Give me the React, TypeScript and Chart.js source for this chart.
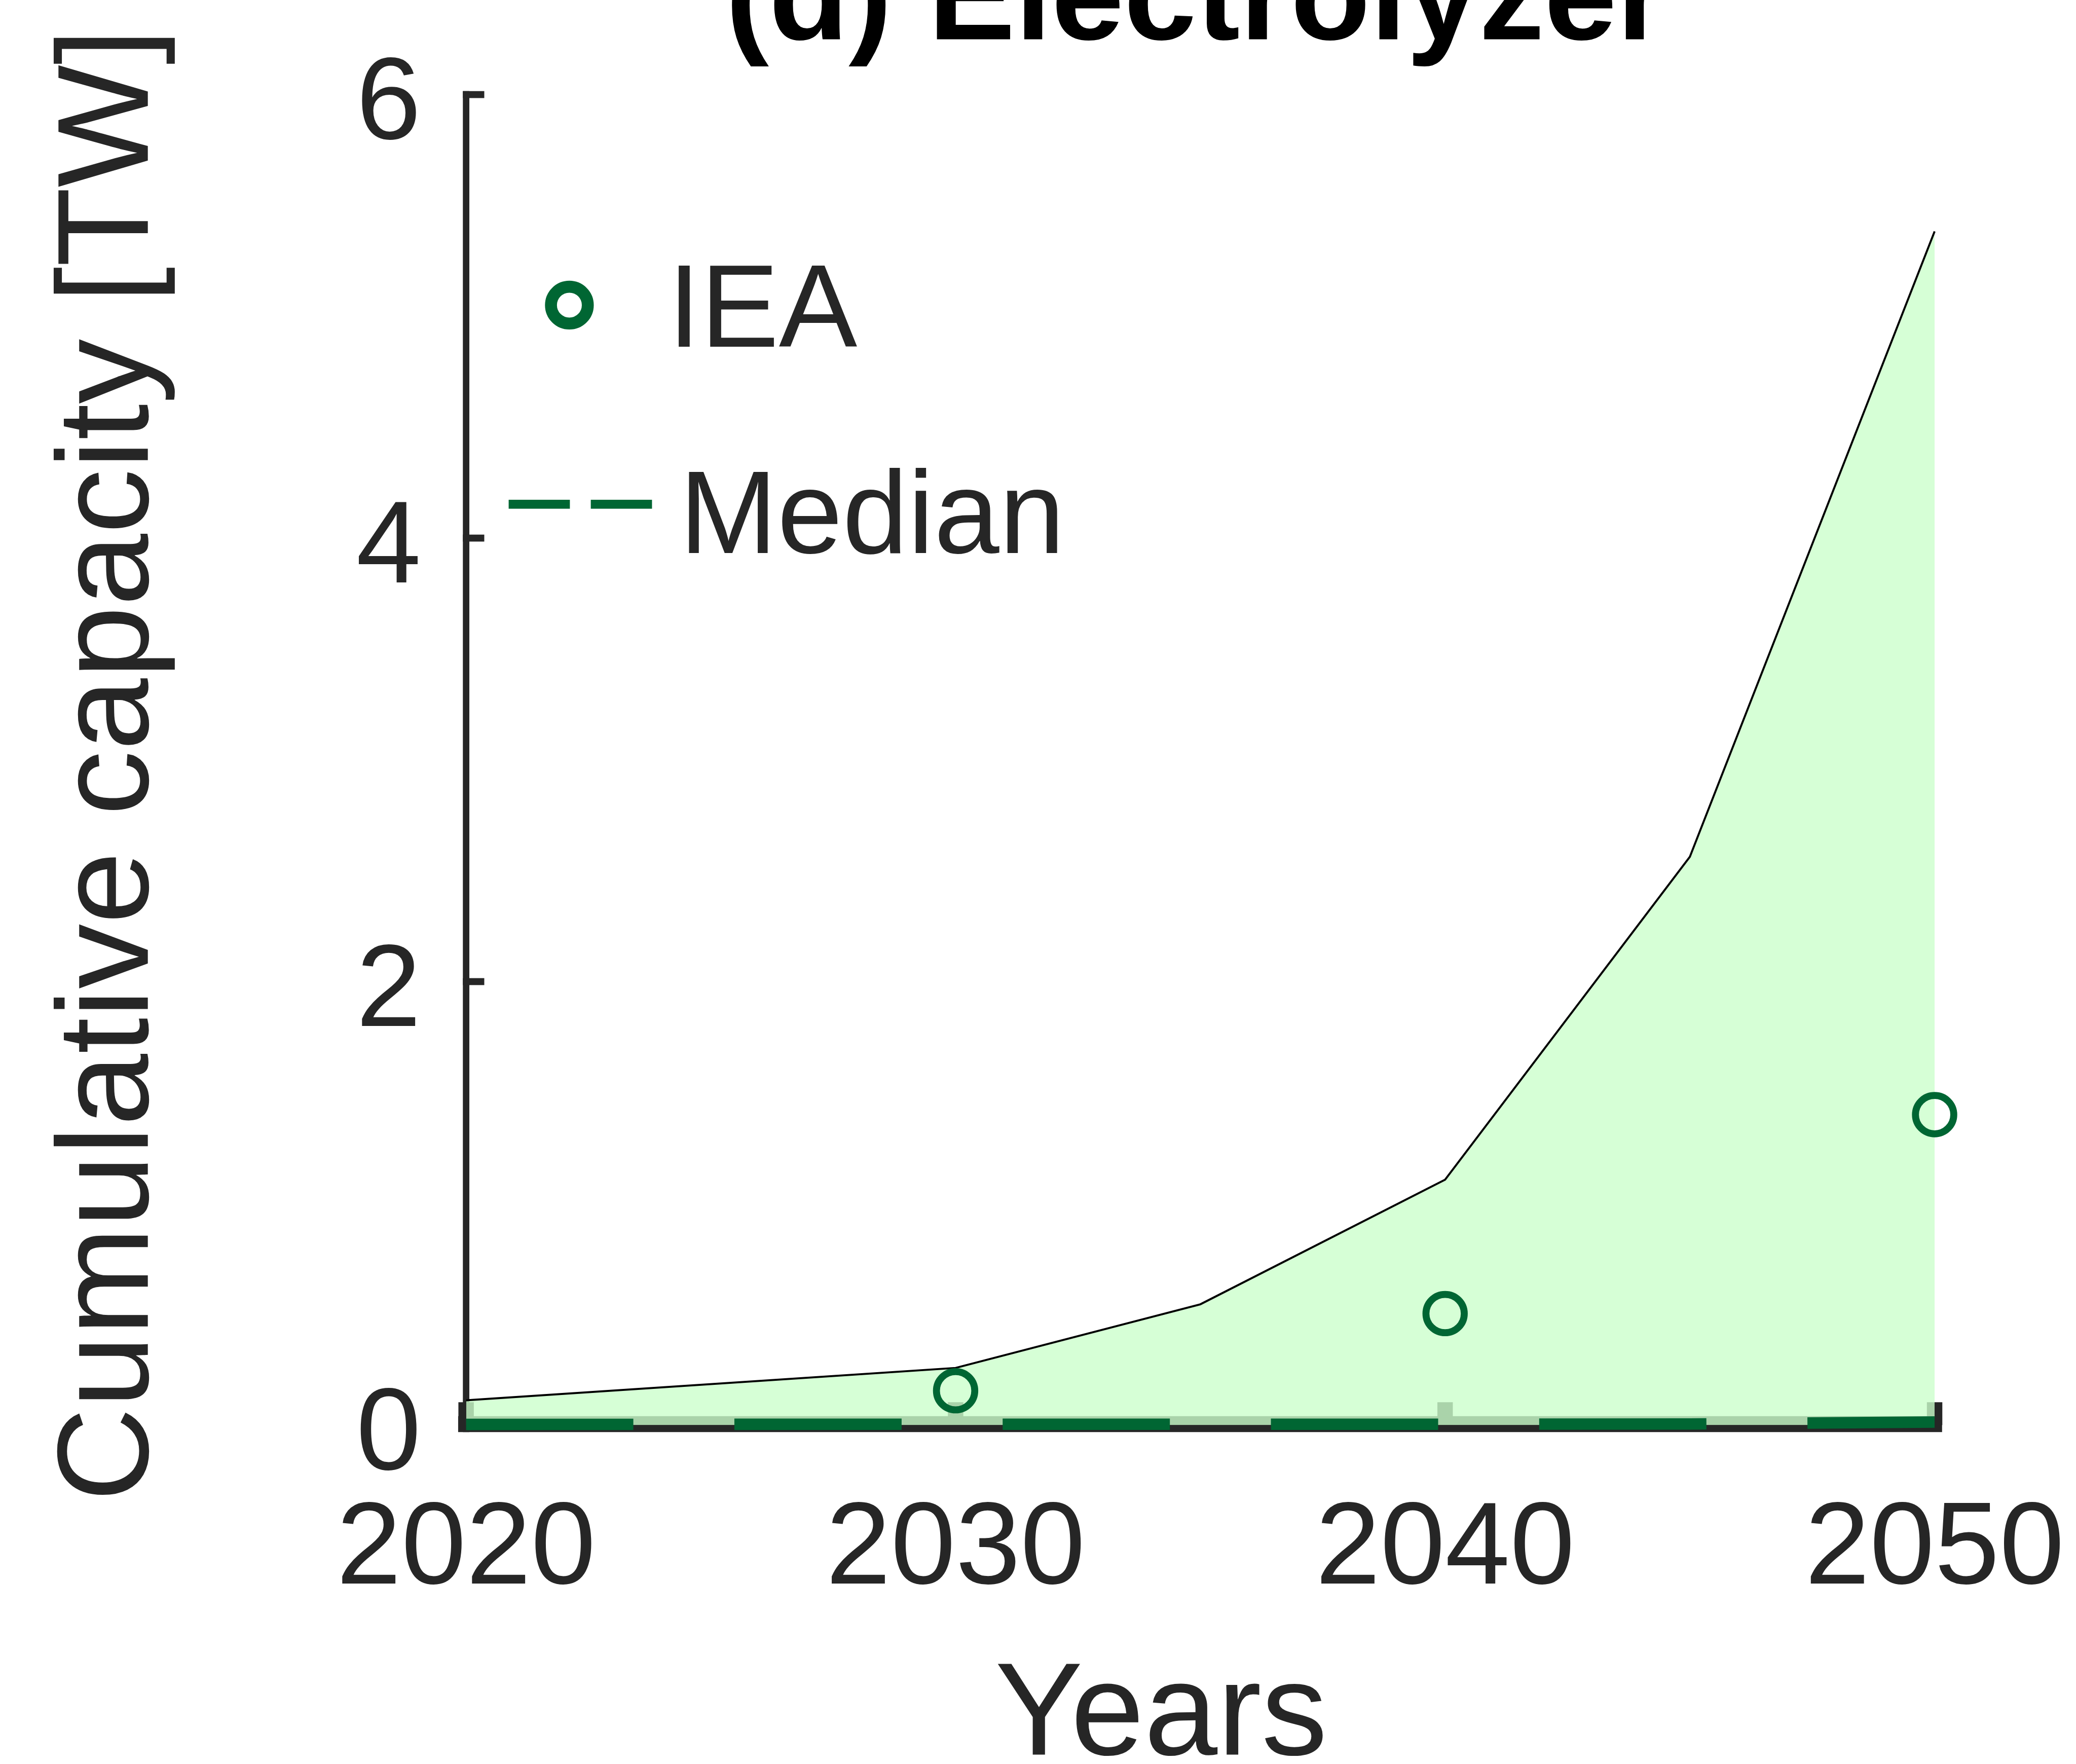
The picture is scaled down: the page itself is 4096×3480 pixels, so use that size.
import React, { useEffect, useRef } from "react";
import { Chart, registerables } from "chart.js";

Chart.register(...registerables);

// ---- data ----
const bandYears = [2020, 2030, 2035, 2040, 2045, 2050];
const upperBound = [0.112, 0.258, 0.545, 1.107, 2.563, 5.383];
const medianYears = [2020, 2030, 2035, 2040, 2045, 2050];
const medianValues = [0.003, 0.004, 0.004, 0.004, 0.005, 0.014];
const ieaYears = [2030, 2040, 2050];
const ieaValues = [0.155, 0.503, 1.4];
const xTickValues = [2020, 2030, 2040, 2050];
const yTickValues = [0, 2, 4, 6];
const titleText = "(d) Electrolyzer";
const xTitleText = "Years";
const yTitleText = "Cumulative capacity [TW]";
const legendLabels = ["IEA", "Median"];

// ---- styling ----
const S = 0.982;
const W = 4096;
const H = 3480;
const FONT = "'Liberation Sans', Arial, Helvetica, sans-serif";
const AXIS = "#262626";
const GREEN = "#006633";
const FILL = "rgba(204,255,204,0.8)";

const matlabAxes = {
  id: "matlabAxes",
  beforeDatasetsDraw(chart: any) {
    const { ctx } = chart;
    const xs = chart.scales.x;
    const ys = chart.scales.y;
    const x0 = xs.getPixelForValue(xTickValues[0]);
    const x1 = xs.getPixelForValue(xTickValues[xTickValues.length - 1]);
    const y0 = ys.getPixelForValue(yTickValues[0]);
    const yTop = ys.getPixelForValue(yTickValues[yTickValues.length - 1]);
    ctx.save();
    ctx.fillStyle = AXIS;
    const yw = 13 * S;
    // y axis line
    ctx.fillRect(x0 - yw / 2, yTop - 7 * S, yw, y0 + 14 * S - (yTop - 7 * S));
    // y ticks (inward)
    for (const v of yTickValues) {
      const py = ys.getPixelForValue(v);
      ctx.fillRect(x0 - yw / 2, py - 7 * S, 43 * S, 14 * S);
    }
    // x axis line
    ctx.fillRect(x0 - 16 * S, y0 - 18 * S, x1 + 15 * S - (x0 - 16 * S), 32 * S);
    // x ticks (inward)
    for (const v of xTickValues) {
      const px = xs.getPixelForValue(v);
      ctx.fillRect(px - 15.5 * S, y0 - 46 * S, 31 * S, 46 * S);
    }
    ctx.restore();
  },
  afterDraw(chart: any) {
    const { ctx } = chart;
    ctx.save();
    // title
    ctx.fillStyle = "#000";
    ctx.font = `bold ${262 * S}px ${FONT}`;
    ctx.textAlign = "center";
    ctx.textBaseline = "alphabetic";
    ctx.fillText(titleText, 2404 * S, 79 * S);

    // x title
    ctx.fillStyle = AXIS;
    ctx.font = `${265 * S}px ${FONT}`;
    ctx.fillText(xTitleText, 2333 * S, 3525 * S);

    // y title
    ctx.save();
    ctx.translate(297 * S, 1537 * S);
    ctx.rotate(-Math.PI / 2);
    ctx.font = `${261 * S}px ${FONT}`;
    ctx.fillText(yTitleText, 0, 0);
    ctx.restore();

    // legend
    ctx.strokeStyle = GREEN;
    ctx.lineWidth = 24 * S;
    ctx.beginPath();
    ctx.arc(1144 * S, 613 * S, 37 * S, 0, Math.PI * 2);
    ctx.stroke();
    ctx.fillStyle = GREEN;
    ctx.fillRect(1022 * S, 1004 * S, 123 * S, 18 * S);
    ctx.fillRect(1187 * S, 1004 * S, 123 * S, 18 * S);

    ctx.fillStyle = AXIS;
    ctx.textAlign = "left";
    ctx.font = `${236 * S}px ${FONT}`;
    ctx.fillText(legendLabels[0], 1342 * S, 697 * S);
    ctx.fillText(legendLabels[1], 1365 * S, 1111 * S);
    ctx.restore();
  },
};

export default function App() {
  const ref = useRef<HTMLCanvasElement | null>(null);

  useEffect(() => {
    document.body.style.margin = "0";
    document.body.style.overflow = "hidden";
    const canvas = ref.current;
    if (!canvas) return;

    const chartLeft = 936.5 * S;
    const chartRight = 3887 * S;
    const chartTop = 190 * S;
    const chartBottom = 2863 * S;

    const chart = new Chart(canvas, {
      type: "line",
      data: {
        datasets: [
          {
            label: legendLabels[0],
            data: ieaYears.map((yr, i) => ({ x: yr, y: ieaValues[i] })),
            showLine: false,
            pointRadius: 38.5 * S,
            pointBorderWidth: 14 * S,
            pointBorderColor: GREEN,
            pointBackgroundColor: "rgba(0,0,0,0)",
            borderColor: GREEN,
            clip: false,
            order: 0,
          },
          {
            label: legendLabels[1],
            data: medianYears.map((yr, i) => ({ x: yr, y: medianValues[i] })),
            borderColor: GREEN,
            borderWidth: 23 * S,
            borderDash: [336 * S, 203 * S],
            borderCapStyle: "butt",
            pointRadius: 0,
            fill: false,
            tension: 0,
            clip: false,
            order: 1,
          },
          {
            label: "Range",
            data: bandYears.map((yr, i) => ({ x: yr, y: upperBound[i] })),
            borderColor: "#000",
            borderWidth: 4 * S,
            backgroundColor: FILL,
            fill: "origin",
            pointRadius: 0,
            tension: 0,
            clip: false,
            order: 2,
          },
        ],
      },
      options: {
        responsive: false,
        animation: false,
        events: [],
        layout: {
          padding: { top: chartTop, right: W - chartRight, bottom: 0, left: 0 },
        },
        plugins: {
          legend: { display: false },
          tooltip: { enabled: false },
          title: { display: false },
        },
        scales: {
          x: {
            type: "linear",
            min: 2020,
            max: 2050,
            grid: { display: false, drawTicks: false, tickLength: 0 },
            border: { display: false },
            ticks: {
              stepSize: 10,
              padding: 111,
              color: AXIS,
              font: { family: FONT, size: 230 },
              callback: (v: any) => String(v),
            },
            afterFit: (scale: any) => {
              scale.height = H - chartBottom;
              scale.paddingLeft = 0;
              scale.paddingRight = 0;
            },
          },
          y: {
            type: "linear",
            min: 0,
            max: 6,
            grid: { display: false, drawTicks: false, tickLength: 0 },
            border: { display: false },
            ticks: {
              stepSize: 2,
              padding: 89,
              labelOffset: 24,
              color: AXIS,
              font: { family: FONT, size: 230 },
              callback: (v: any) => String(v),
            },
            afterFit: (scale: any) => {
              scale.width = chartLeft;
              scale.paddingTop = 0;
              scale.paddingBottom = 0;
            },
          },
        },
      },
      plugins: [matlabAxes],
    } as any);

    return () => chart.destroy();
  }, []);

  return (
    <div style={{ width: W, height: H, background: "#fff" }}>
      <canvas ref={ref} width={W} height={H} style={{ display: "block" }} />
    </div>
  );
}
